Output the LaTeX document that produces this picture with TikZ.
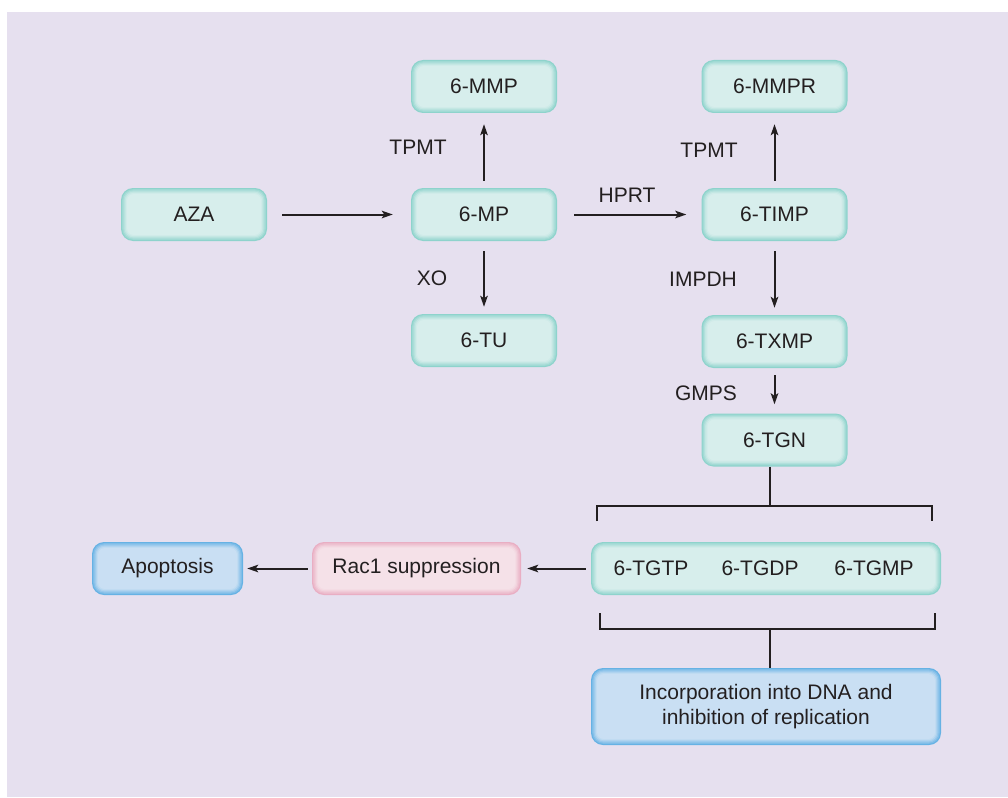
\documentclass[tikz,border=0pt]{standalone}
\usepackage{fontspec}
\setmainfont{Liberation Sans}
\usetikzlibrary{arrows.meta}
\definecolor{bg}{HTML}{E6E0EF}
\definecolor{ink}{HTML}{231F20}
\definecolor{tealE}{HTML}{8ED3CC}
\definecolor{tealL}{HTML}{D7EEEC}
\definecolor{pinkE}{HTML}{E9AEC3}
\definecolor{pinkL}{HTML}{F5E1E8}
\definecolor{blueE}{HTML}{66B2E4}
\definecolor{blueL}{HTML}{C9DFF3}
\newcommand{\glowlayer}[3]{%
  \fill[#1, rounded corners=#3]
    ([shift={(#2,-#2)}]path picture bounding box.north west) rectangle
    ([shift={(-#2,#2)}]path picture bounding box.south east);}
\tikzset{
  box/.style 2 args={draw=none, rounded corners=12pt, inner sep=0pt,
    minimum height=53pt, text=ink, align=center,
    font=\fontsize{21}{25}\selectfont, fill=#1,
    path picture={
      \glowlayer{#1!75!#2}{1.2pt}{11pt}
      \glowlayer{#1!50!#2}{2.4pt}{10pt}
      \glowlayer{#1!28!#2}{3.6pt}{9pt}
      \glowlayer{#1!10!#2}{4.8pt}{8pt}
      \glowlayer{#2}{6pt}{7pt}
    }},
  tealbox/.style={box={tealE}{tealL}},
  pinkbox/.style={box={pinkE}{pinkL}},
  bluebox/.style={box={blueE}{blueL}},
  lab/.style={text=ink, inner sep=0pt, font=\fontsize{21}{25}\selectfont},
  arr/.style={draw=ink, line width=2pt, -{Stealth[length=11pt,width=7.5pt,inset=2.5pt]}},
  brk/.style={draw=ink, line width=2.6pt}
}
\begin{document}
\begin{tikzpicture}[x=1pt,y=-1pt]
\useasboundingbox (0,0) rectangle (1008,797);
\fill[bg] (7,12) rectangle (1008,797);

% nodes
\node[tealbox, minimum width=146pt] (aza)  at (194,214.5) {AZA};
\node[tealbox, minimum width=146pt] (mp)   at (484,214.5) {6-MP};
\node[tealbox, minimum width=146pt] (mmp)  at (484,86.5)  {6-MMP};
\node[tealbox, minimum width=146pt] (tu)   at (484,340.5) {6-TU};
\node[tealbox, minimum width=146pt] (timp) at (774.5,214.5) {6-TIMP};
\node[tealbox, minimum width=146pt] (mmpr) at (774.5,86.5)  {6-MMPR};
\node[tealbox, minimum width=146pt] (txmp) at (774.5,341.5) {6-TXMP};
\node[tealbox, minimum width=146pt] (tgn)  at (774.5,440)   {6-TGN};
\node[tealbox, minimum width=350pt] (tg)   at (766,568.5) {};
\node[lab] (tgtp) at (651,568.5) {6-TGTP};
\node[lab] (tgdp) at (760,568.5) {6-TGDP};
\node[lab] (tgmp) at (874,568.5) {6-TGMP};
\node[pinkbox, minimum width=209pt] (rac) at (416.5,568.5) {Rac1 suppression};
\node[bluebox, minimum width=151pt] (apo) at (167.5,568.5) {Apoptosis};
\node[bluebox, minimum width=350pt, minimum height=77pt] (inc) at (766,706.5)
  {Incorporation into DNA and\\inhibition of replication};

% labels
\node[lab] (l1) at (418,147) {TPMT};
\node[lab] (l2) at (432,278) {XO};
\node[lab] (l3) at (627,195) {HPRT};
\node[lab] (l4) at (709,150) {TPMT};
\node[lab] (l5) at (703,279) {IMPDH};
\node[lab] (l6) at (706,393) {GMPS};

% arrows
\draw[arr, shorten <=15pt, shorten >=18pt] (aza) -- (mp);
\draw[arr, shorten <=17pt, shorten >=15pt] (mp) -- (timp);
\draw[arr, shorten <=7pt, shorten >=11pt] (mp) -- (mmp);
\draw[arr, shorten <=10pt, shorten >=7pt] (mp) -- (tu);
\draw[arr, shorten <=7pt, shorten >=11pt] (timp) -- (mmpr);
\draw[arr, shorten <=10pt, shorten >=7pt] (timp) -- (txmp);
\draw[arr, shorten <=7pt, shorten >=9pt] (txmp) -- (tgn);
\draw[arr, shorten <=5pt, shorten >=6pt] (tg) -- (rac);
\draw[arr, shorten <=4pt, shorten >=4pt] (rac) -- (apo);

% brackets
\coordinate (t1) at (770,506);
\coordinate (t1l) at (597,521);
\coordinate (t1r) at (932,521);
\coordinate (t2) at (770,629);
\coordinate (t2l) at (600,613);
\coordinate (t2r) at (935,613);
\draw[brk] (tgn.south -| t1) -- (t1);
\draw[brk] (t1l) -- (t1l |- t1) -- (t1r |- t1) -- (t1r);
\draw[brk] (t2l) -- (t2l |- t2) -- (t2r |- t2) -- (t2r);
\draw[brk] (t2) -- (inc.north -| t2);
\end{tikzpicture}
\end{document}
